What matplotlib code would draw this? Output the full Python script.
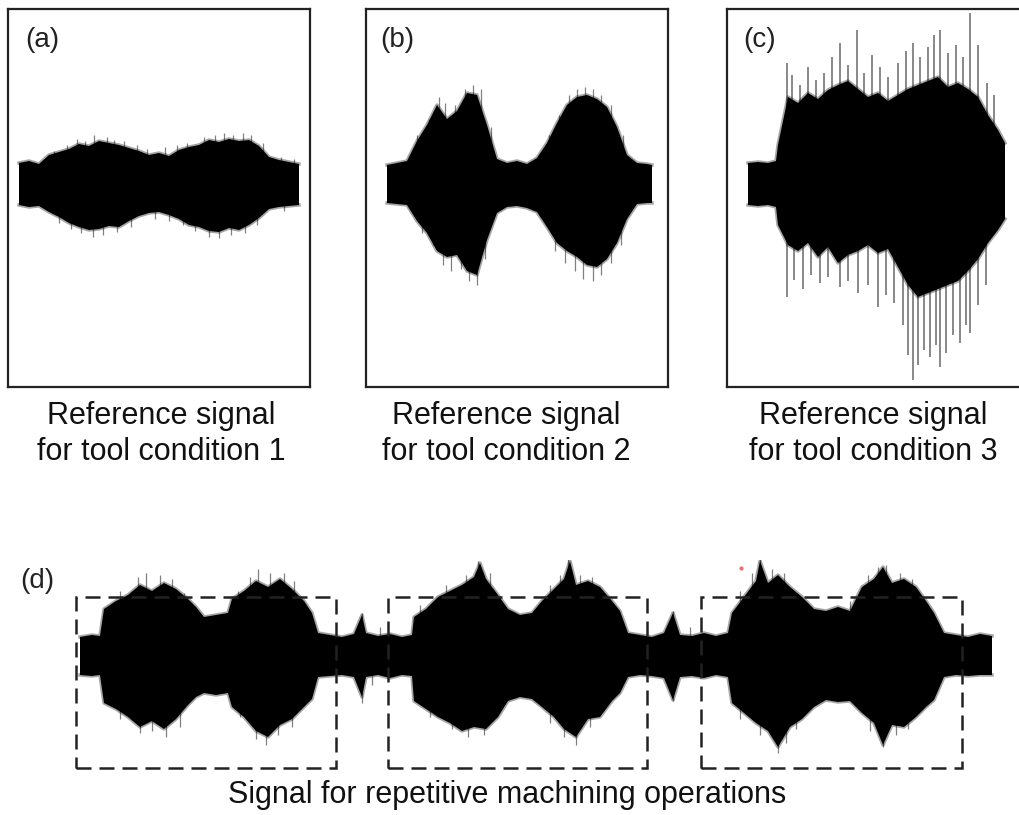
import numpy as np
import matplotlib
matplotlib.use("Agg")
from matplotlib import pyplot as plt
from matplotlib.patches import Rectangle

plt.rcParams["font.family"] = ["Liberation Sans", "DejaVu Sans"]

# ---- envelope data (time in samples, amplitude in a.u.) ----

# (a) tool condition 1
a_t = [0, 10, 20, 30, 40, 50, 60, 70, 80, 90, 100, 110, 120, 130, 140, 150, 160,
       170, 180, 190, 200, 210, 220, 230, 240, 250, 260, 270, 280]
a_up = [22, 24, 21, 30, 33, 36, 41, 39, 44, 42, 40, 37, 34, 30, 32, 29, 35,
        38, 40, 45, 43, 46, 44, 45, 39, 28, 25, 23, 21]
a_lo = [20, 22, 21, 27, 32, 38, 42, 45, 44, 41, 42, 36, 31, 28, 27, 30, 34,
        40, 42, 46, 47, 43, 45, 40, 33, 24, 22, 21, 20]
a_spk_up_t = [35, 48, 58, 66, 75, 88, 95, 105, 118, 128, 146, 158, 168, 185, 196,
              205, 214, 224, 232, 244, 262, 275]
a_spk_up = [34, 40, 46, 44, 50, 48, 45, 44, 40, 36, 38, 40, 42, 48, 50,
            52, 50, 52, 50, 42, 28, 26]
a_spk_lo_t = [40, 52, 62, 74, 84, 98, 112, 136, 150, 164, 176, 190, 200, 212, 226,
              238, 265]
a_spk_lo = [38, 44, 48, 52, 50, 47, 42, 34, 36, 40, 46, 52, 53, 50, 48,
            40, 26]

# (b) tool condition 2
b_t = [0, 10, 20, 30, 40, 50, 60, 70, 80, 90, 100, 110, 120, 130, 140, 150, 160,
       170, 180, 190, 200, 210, 220, 230, 240, 250, 260, 265]
b_up = [20, 22, 24, 44, 60, 80, 66, 74, 92, 90, 60, 26, 22, 24, 21, 27, 42,
        62, 80, 88, 90, 86, 78, 58, 30, 22, 21, 20]
b_lo = [18, 19, 20, 36, 48, 66, 72, 70, 86, 90, 55, 28, 22, 21, 23, 27, 42,
        58, 66, 72, 80, 82, 74, 58, 34, 19, 18, 18]
b_spk_up_t = [30, 42, 52, 58, 68, 78, 86, 94, 104, 162, 172, 182, 190, 198, 206,
              214, 224, 236]
b_spk_up = [50, 66, 88, 82, 80, 96, 100, 96, 58, 50, 70, 90, 96, 98, 96,
            90, 80, 50]
b_spk_lo_t = [35, 46, 56, 64, 74, 82, 90, 98, 168, 178, 188, 196, 206, 214, 224,
              234]
b_spk_lo = [48, 60, 80, 86, 84, 96, 100, 74, 66, 78, 86, 94, 96, 90, 78,
            60]

# (c) tool condition 3
c_t = [0, 10, 20, 28, 30, 40, 50, 60, 70, 80, 90, 100, 110, 120, 130, 140, 150,
       160, 170, 180, 190, 200, 210, 220, 230, 240, 250, 257]
c_up = [22, 23, 22, 24, 40, 88, 82, 92, 86, 95, 100, 104, 96, 88, 92, 84, 90,
        96, 100, 104, 108, 98, 102, 96, 88, 70, 55, 42]
c_lo = [20, 21, 20, 22, 40, 60, 66, 58, 72, 62, 78, 70, 66, 60, 68, 64, 82,
        100, 112, 108, 104, 100, 96, 86, 74, 58, 45, 34]
c_spk_up_t = [39, 44, 52, 60, 68, 76, 84, 92, 100, 109, 116, 124, 132, 140, 150,
              158, 165, 172, 180, 186, 192, 200, 208, 215, 222, 230, 239, 246]
c_spk_up = [122, 110, 100, 118, 105, 112, 128, 142, 120, 155, 112, 130, 118, 108,
            122, 134, 142, 128, 138, 150, 155, 132, 140, 128, 172, 140, 102, 90]
c_spk_lo_t = [39, 46, 55, 63, 72, 80, 92, 100, 110, 120, 130, 138, 146, 155, 160,
              165, 170, 176, 182, 188, 192, 198, 205, 212, 218, 222, 230, 238]
c_spk_lo = [112, 95, 104, 90, 98, 92, 102, 96, 108, 100, 122, 110, 118, 140, 170,
            195, 180, 165, 172, 160, 182, 168, 150, 158, 140, 148, 120, 100]

# (d) repetitive machining operations
d_t_up = [0, 12, 20, 24, 36, 48, 60, 72, 84, 96, 108, 116, 124, 136, 148, 152, 164,
          176, 188, 200, 212, 224, 232, 238, 250, 262, 274, 282, 286, 298, 310, 322,
          332, 334, 346, 358, 370, 382, 394, 400, 406, 418, 428, 440, 452, 462, 474,
          484, 490, 496, 508, 520, 532, 540, 548, 560, 572, 584, 593, 600, 612, 624,
          636, 648, 652, 664, 676, 680, 688, 698, 710, 722, 734, 746, 758, 770, 782,
          794, 803, 812, 824, 836, 846, 854, 864, 876, 888, 900, 912]
d_up = [20, 22, 21, 48, 56, 62, 72, 66, 74, 68, 58, 50, 40, 42, 44, 58, 66,
        76, 70, 78, 68, 56, 44, 24, 22, 20, 23, 42, 24, 21, 23, 20,
        22, 40, 48, 60, 66, 72, 80, 94, 78, 62, 48, 42, 44, 56, 68,
        78, 96, 72, 76, 70, 56, 46, 24, 22, 20, 24, 44, 22, 21, 24,
        21, 24, 44, 60, 76, 96, 74, 82, 70, 60, 48, 46, 50, 46, 70,
        78, 90, 74, 78, 70, 56, 44, 24, 22, 20, 23, 21]
d_t_lo = [0, 12, 20, 24, 36, 48, 60, 72, 84, 96, 108, 116, 124, 136, 148, 152, 164,
          176, 188, 200, 212, 224, 232, 238, 250, 262, 274, 282, 286, 298, 310, 322,
          332, 334, 346, 358, 370, 382, 394, 406, 418, 428, 440, 452, 462, 474, 484,
          496, 508, 520, 532, 540, 548, 560, 572, 584, 593, 600, 612, 624, 636, 648,
          652, 664, 676, 688, 698, 710, 722, 734, 746, 758, 770, 782, 794, 803, 812,
          824, 836, 846, 854, 864, 876, 888, 900, 912]
d_lo = [18, 19, 18, 46, 52, 60, 70, 64, 72, 62, 48, 40, 36, 38, 36, 50, 60,
        74, 80, 68, 62, 50, 42, 20, 19, 18, 20, 40, 20, 18, 21, 18,
        19, 44, 52, 60, 66, 74, 70, 72, 60, 44, 40, 42, 50, 60, 72,
        80, 62, 60, 44, 36, 20, 18, 19, 21, 43, 20, 19, 21, 18, 20,
        46, 56, 66, 74, 90, 70, 62, 50, 43, 45, 44, 56, 66, 88, 68,
        70, 60, 50, 43, 20, 18, 19, 18, 18]
d_spk_up_t = [40, 58, 66, 80, 92, 104, 158, 170, 178, 190, 204, 214, 282, 300, 340,
              366, 386, 398, 410, 470, 480, 488, 500, 512, 593, 610, 660, 672, 680,
              692, 704, 770, 788, 798, 806, 820, 832]
d_spk_up = [66, 80, 84, 82, 78, 64, 66, 80, 88, 84, 84, 76, 44, 30, 52,
            72, 82, 96, 84, 72, 82, 98, 82, 80, 46, 30, 66, 84, 98,
            88, 84, 56, 82, 90, 92, 84, 78]
d_spk_lo_t = [40, 60, 72, 86, 100, 160, 176, 186, 198, 212, 282, 292, 350, 372, 388,
              404, 470, 484, 496, 510, 593, 660, 680, 698, 706, 716, 790, 803, 816,
              828]
d_spk_lo = [62, 76, 74, 80, 70, 60, 82, 88, 78, 70, 46, 28, 60, 72, 80,
            78, 66, 80, 88, 70, 44, 62, 78, 96, 86, 72, 74, 90, 78,
            72]

# dashed windows around each operation (sample ranges)
win_start = [-4, 308, 621]
win_end = [256, 567, 882]
win_top = 60
win_bottom = -111

captions = ["Reference signal\nfor tool condition 1",
            "Reference signal\nfor tool condition 2",
            "Reference signal\nfor tool condition 3"]
labels = ["(a)", "(b)", "(c)"]

W, H = 1019, 815
fig = plt.figure(figsize=(W / 100, H / 100), dpi=100)


def envelope(ax, t_up, up, t_lo, lo, su_t, su, sl_t, sl, spike_lw=0.9):
    # thin spikes poking out of the envelope (behind the body)
    ax.vlines(su_t, 0, su, color="#555555", lw=spike_lw, alpha=0.75, zorder=1)
    ax.vlines(sl_t, [-v for v in sl], 0, color="#555555", lw=spike_lw,
              alpha=0.75, zorder=1)
    # soft, slightly blurred edge
    ax.plot(t_up, up, color="black", lw=2.5, alpha=0.35, zorder=2)
    ax.plot(t_lo, [-v for v in lo], color="black", lw=2.5, alpha=0.35, zorder=2)
    xs = list(t_up) + list(t_lo)[::-1]
    ys = list(up) + [-v for v in lo][::-1]
    ax.fill(xs, ys, color="black", lw=0, zorder=3)


def px_axes(x0, y0, w, h):
    return fig.add_axes([x0 / W, 1 - (y0 + h) / H, w / W, h / H])


panels = [
    (8, a_t, a_up, a_t, a_lo, a_spk_up_t, a_spk_up, a_spk_lo_t, a_spk_lo, 11),
    (366, b_t, b_up, b_t, b_lo, b_spk_up_t, b_spk_up, b_spk_lo_t, b_spk_lo, 21),
    (727, c_t, c_up, c_t, c_lo, c_spk_up_t, c_spk_up, c_spk_lo_t, c_spk_lo, 21),
]
cap_x = [161, 506, 873]
lab_x = [25, 380, 743]

for i, (x0, tu, u, tl, l, sut, su, slt, sl, off) in enumerate(panels):
    ax = px_axes(x0, 9, 302, 378)
    envelope(ax, tu, u, tl, l, sut, su, slt, sl, spike_lw=1.3 if i == 2 else 0.9)
    ax.set_xlim(-off, 302 - off)
    ax.set_ylim(-202, 176)
    ax.set_xticks([])
    ax.set_yticks([])
    for s in ax.spines.values():
        s.set_linewidth(1.6)
        s.set_color("#222222")
        s.set_zorder(5)
    fig.text(lab_x[i] / W, 1 - 40 / H, labels[i], fontsize=20, ha="left",
             va="center", color="#222222")
    fig.text(cap_x[i] / W, 1 - 434 / H, captions[i], fontsize=22, ha="center",
             va="center", linespacing=1.28, color="#111111")

# bottom panel
axd = px_axes(0, 560, W, 240)
envelope(axd, d_t_up, d_up, d_t_lo, d_lo, d_spk_up_t, d_spk_up, d_spk_lo_t, d_spk_lo)
for s, e in zip(win_start, win_end):
    axd.add_patch(Rectangle((s, win_bottom), e - s, win_top - win_bottom,
                            fill=False, ec="#222222", lw=1.8,
                            ls=(0, (6, 3.2)), zorder=4))
axd.plot([661], [89], "o", color="#ff6666", ms=2)
axd.set_xlim(-80, 939)
axd.set_ylim(-143, 97)
axd.axis("off")

fig.text(20 / W, 1 - 581 / H, "(d)", fontsize=20, ha="left", va="center",
         color="#222222")
fig.text(507 / W, 1 - 795 / H, "Signal for repetitive machining operations",
         fontsize=22, ha="center", va="center", color="#111111")

fig.savefig("out.png", dpi=100)
